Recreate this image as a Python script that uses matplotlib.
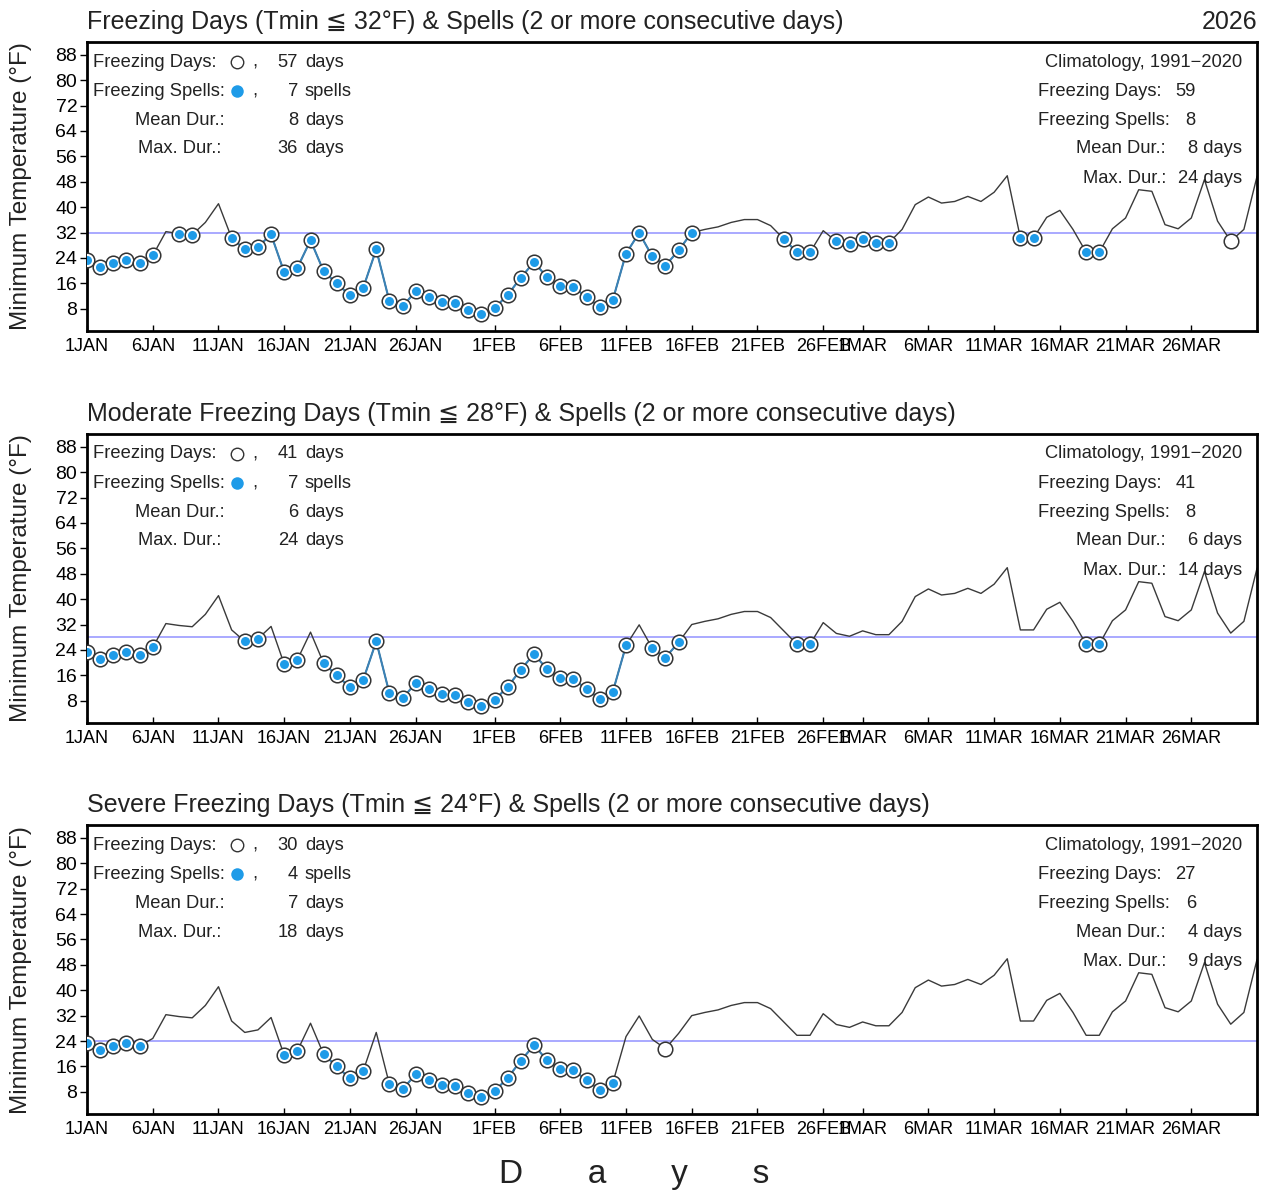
import matplotlib
matplotlib.use("Agg")
import matplotlib.pyplot as plt
import numpy as np

plt.rcParams["font.family"] = ["Liberation Sans", "DejaVu Sans"]

# daily minimum temperature, 1 Jan - 31 Mar (degF)
tmin_jan = [23.5, 21.2, 22.5, 23.5, 22.5, 24.8, 32.3, 31.7, 31.3, 35.2,
            41.1, 30.3, 26.7, 27.5, 31.4, 19.5, 20.9, 29.6, 19.8, 16.0,
            12.2, 14.5, 26.7, 10.4, 8.8, 13.5, 11.8, 10.1, 9.9, 7.6, 6.4]
tmin_feb = [8.2, 12.4, 17.8, 22.7, 17.9, 15.1, 14.8, 11.7, 8.6, 10.9,
            25.4, 31.9, 24.5, 21.6, 26.4, 32.0, 33.0, 33.8, 35.2, 36.1,
            36.1, 34.2, 30.0, 25.8, 25.8, 32.6, 29.2, 28.3]
tmin_mar = [30.0, 28.8, 28.8, 33.0, 40.8, 43.2, 41.3, 41.8, 43.4, 41.8,
            44.7, 49.9, 30.3, 30.3, 36.8, 39.0, 33.0, 25.8, 25.8, 33.2,
            36.6, 45.5, 45.0, 34.5, 33.2, 36.6, 48.7, 35.6, 29.3, 33.0, 49.7]

tick_labels = ["1JAN", "6JAN", "11JAN", "16JAN", "21JAN", "26JAN",
               "1FEB", "6FEB", "11FEB", "16FEB", "21FEB", "26FEB",
               "1MAR", "6MAR", "11MAR", "16MAR", "21MAR", "26MAR"]
tick_days = [0, 5, 10, 15, 20, 25, 31, 36, 41, 46, 51, 56, 59, 64, 69, 74, 79, 84]

titles = ["Freezing Days (Tmin \u2266 32\u00b0F) & Spells (2 or more consecutive days)",
          "Moderate Freezing Days (Tmin \u2266 28\u00b0F) & Spells (2 or more consecutive days)",
          "Severe Freezing Days (Tmin \u2266 24\u00b0F) & Spells (2 or more consecutive days)"]
thresholds = [32, 28, 24]

# climatology 1991-2020: days, spells, mean dur, max dur
clim_days = [59, 41, 27]
clim_spells = [8, 8, 6]
clim_mean = [8, 6, 4]
clim_max = [24, 14, 9]

yticks = [8, 16, 24, 32, 40, 48, 56, 64, 72, 80, 88]

tmin = np.array(tmin_jan + tmin_feb + tmin_mar)
days = np.arange(len(tmin))

SPELL_BLUE = "#1e9be8"
SPELL_LINE = "#3a82b6"
THR_COLOR = "#a3a3ff"
INK = "#222222"


def find_runs(mask):
    runs = []
    start = None
    for i, m in enumerate(mask):
        if m and start is None:
            start = i
        if not m and start is not None:
            runs.append((start, i))
            start = None
    if start is not None:
        runs.append((start, len(mask)))
    return runs


def draw_panel(ax, k):
    thr = thresholds[k]
    frz = tmin <= thr
    runs = find_runs(frz)
    spells = [r for r in runs if r[1] - r[0] >= 2]
    singles = [r for r in runs if r[1] - r[0] == 1]

    ax.axhline(thr, color=THR_COLOR, lw=1.3, zorder=1)
    ax.plot(days, tmin, color="#3a3a3a", lw=1.0, zorder=2)

    for s, e in spells:
        ax.plot(days[s:e], tmin[s:e], color=SPELL_LINE, lw=1.5, zorder=3)
        ax.plot(days[s:e], tmin[s:e], "o", ms=10.5, mfc="white", mec="#333333",
                mew=1.1, zorder=4)
        ax.plot(days[s:e], tmin[s:e], "o", ms=6.5, color=SPELL_BLUE, mew=0, zorder=5)
    for s, e in singles:
        ax.plot(days[s:e], tmin[s:e], "o", ms=10.5, mfc="white", mec="#333333",
                mew=1.1, zorder=4)

    n_days = int(frz.sum())
    lens = [e - s for s, e in spells]
    n_sp = len(lens)
    mean_d = int(round(np.mean(lens))) if lens else 0
    max_d = max(lens) if lens else 0

    ax.set_xlim(0, len(tmin) - 1)
    ax.set_ylim(1, 92)
    ax.set_yticks(yticks)
    ax.set_xticks(tick_days)
    ax.set_xticklabels(tick_labels)
    ax.tick_params(axis="y", direction="out", length=5, width=1, labelsize=14, pad=2)
    ax.tick_params(axis="x", direction="in", length=4, width=1, labelsize=13, pad=5)
    for sp in ax.spines.values():
        sp.set_linewidth(2)
    ax.set_ylabel("Minimum Temperature (\u00b0F)", fontsize=17.5, color=INK)
    ax.yaxis.set_label_coords(-0.047, 0.5)

    ax.text(0, 1.07, titles[k], transform=ax.transAxes, ha="left", va="center",
            fontsize=18, color=INK)
    if k == 0:
        ax.text(1.0, 1.07, "2026", transform=ax.transAxes, ha="right", va="center",
                fontsize=18, color=INK)

    fs = 13.2
    rows = [0.931, 0.830, 0.730, 0.630, 0.529]
    tk = dict(transform=ax.transAxes, va="center", fontsize=fs, color=INK)
    # current year block
    ax.text(0.0051, rows[0], "Freezing Days:", ha="left", **tk)
    ax.plot([0.128], [rows[0]], "o", ms=9, mfc="white", mec="#333333", mew=1,
            transform=ax.transAxes, clip_on=False)
    ax.text(0.141, rows[0], ",", ha="left", **tk)
    ax.text(0.1803, rows[0], str(n_days), ha="right", **tk)
    ax.text(0.1863, rows[0], "days", ha="left", **tk)
    ax.text(0.0051, rows[1], "Freezing Spells:", ha="left", **tk)
    ax.plot([0.128], [rows[1]], "o", ms=9, color=SPELL_BLUE, mew=0,
            transform=ax.transAxes, clip_on=False)
    ax.text(0.141, rows[1], ",", ha="left", **tk)
    ax.text(0.1803, rows[1], str(n_sp), ha="right", **tk)
    ax.text(0.1863, rows[1], "spells", ha="left", **tk)
    ax.text(0.0795, rows[2], "Mean Dur.:", ha="center", **tk)
    ax.text(0.1803, rows[2], str(mean_d), ha="right", **tk)
    ax.text(0.1863, rows[2], "days", ha="left", **tk)
    ax.text(0.0795, rows[3], "Max. Dur.:", ha="center", **tk)
    ax.text(0.1803, rows[3], str(max_d), ha="right", **tk)
    ax.text(0.1863, rows[3], "days", ha="left", **tk)

    # climatology block
    ax.text(0.9872, rows[0], "Climatology, 1991\u22122020", ha="right", **tk)
    ax.text(0.8128, rows[1], "Freezing Days:", ha="left", **tk)
    ax.text(0.930, rows[1], str(clim_days[k]), ha="left", **tk)
    ax.text(0.8128, rows[2], "Freezing Spells:", ha="left", **tk)
    ax.text(0.939, rows[2], str(clim_spells[k]), ha="left", **tk)
    ax.text(0.9222, rows[3], "Mean Dur.:", ha="right", **tk)
    ax.text(0.9872, rows[3], f"{clim_mean[k]} days", ha="right", **tk)
    ax.text(0.9222, rows[4], "Max. Dur.:", ha="right", **tk)
    ax.text(0.9872, rows[4], f"{clim_max[k]} days", ha="right", **tk)


fig = plt.figure(figsize=(12.65, 11.92), dpi=100)
bottoms = [0.7223, 0.3935, 0.0654]
for k, b in enumerate(bottoms):
    ax = fig.add_axes([0.0688, b, 0.9249, 0.2424])
    draw_panel(ax, k)

fig.text(634 / 1265, 1 - 1175 / 1192, "D       a       y       s", ha="center",
         va="center", fontsize=24, color=INK)

fig.savefig("out.png", dpi=100)
